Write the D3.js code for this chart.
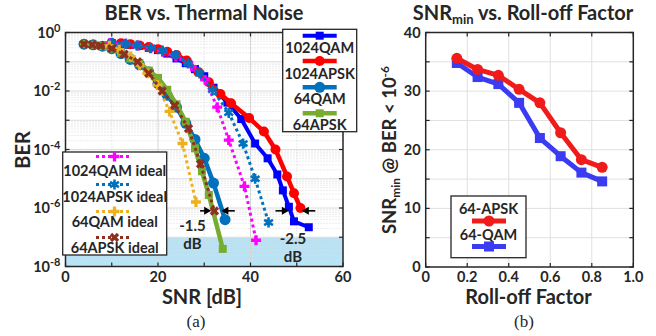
<!DOCTYPE html>
<html><head><meta charset="utf-8">
<script src="https://cdn.jsdelivr.net/npm/d3@7"></script>
<style>
body{margin:0;background:#fff}
svg{display:block}
text{font-family:Lato,"Open Sans",sans-serif;font-weight:bold;fill:#262626}
</style>
</head><body>
<svg id="chart" width="656" height="336"></svg>
<script>
// ---------- Panel (a): BER vs. SNR ----------
const snr1024QAM = [10,12,14,16,18,20,22,24,26,28,30,32,35,38,41,43.7,45.8,47,48.3,49.4,52.6];
const ber1024QAM = [0.43,0.41,0.38,0.35,0.30,0.25,0.19,0.13,0.089,0.056,0.032,0.013,0.0040,0.0011,1.6e-4,5.0e-5,1.4e-5,4.0e-6,1.1e-6,3.5e-7,2.2e-7];

const snr1024APSK = [10,12,14,16,18,20,22,24,26.2,28.7,31,33.5,35.8,39.7,42.9,45.4,47.9,49.4,50.8];
const ber1024APSK = [0.44,0.43,0.40,0.36,0.32,0.27,0.22,0.17,0.11,0.045,0.020,0.0079,0.0038,0.0012,4.1e-4,1.0e-4,1.2e-5,3.2e-6,1.0e-6];

const snr64QAM = [4,6,8,10,12,14,16,18,20,22,24,26,28,30,32,34.5];
const ber64QAM = [0.40,0.38,0.34,0.28,0.19,0.12,0.079,0.045,0.018,0.0071,0.0028,7.9e-4,2.2e-4,5.0e-5,7.1e-6,4.0e-7];

const snr64APSK = [4,6,8,10,12,14,16,18,20,22,24,26,28,29.5,31,34];
const ber64APSK = [0.40,0.38,0.34,0.28,0.20,0.13,0.089,0.050,0.028,0.011,0.0035,8.9e-4,1.1e-4,1.8e-5,2.8e-6,4.0e-8];

const snr1024QAMIdeal = [9.6,13,15.5,18.4,21,23.8,27.3,30.2,32.8,35.3,38.7,41.2];
const ber1024QAMIdeal = [0.44,0.41,0.36,0.29,0.22,0.15,0.068,0.024,0.0028,2.1e-4,5.5e-6,7.9e-8];

const snr1024APSKIdeal = [10,13,15.5,18.4,21,23.8,26.5,29,31.8,35.3,38.4,41,43.9];
const ber1024APSKIdeal = [0.44,0.41,0.36,0.30,0.24,0.17,0.089,0.040,0.011,0.0018,1.6e-4,1.0e-5,3.2e-7];

const snr64QAMIdeal = [9.5,11.6,14.1,16,17.7,19.9,22.5,25.3,28.2];
const ber64QAMIdeal = [0.35,0.26,0.15,0.079,0.040,0.016,0.0020,1.6e-4,1.6e-6];

const snr64APSKIdeal = [4,5.8,7.6,10,12.7,15.6,18,20.9,23.6,26.6,29.2,32.2];
const ber64APSKIdeal = [0.40,0.38,0.35,0.28,0.18,0.10,0.040,0.010,0.0032,5.2e-4,3.2e-5,7.9e-7];

const snrTicks = [0,20,40,60];
const berTickExp = [0,-2,-4,-6,-8];
const berShadeTop = 1e-7;

// arrows marking the SNR penalty at BER = 1e-6: [tail, tip] in dB
const arrowBer = 8e-7;
const arrows64 = [[29.1,31.5],[36.6,33.7]];
const arrows1024 = [[45.4,48.3],[54.0,51.1]];
const penalty64 = ["-1.5","dB"];
const penalty1024 = ["-2.5","dB"];

// ---------- Panel (b): SNRmin vs. roll-off ----------
const rollOff = [0.15,0.25,0.35,0.45,0.55,0.65,0.75,0.85];
const snrMin64APSK = [35.6,33.7,32.7,30.3,28.0,22.9,18.3,17.0];
const snrMin64QAM = [34.8,32.4,31.2,28.0,22.0,18.9,16.1,14.6];
const rollTicks = [0,0.2,0.4,0.6,0.8,1.0];
const snrMinTicks = [0,10,20,30,40];

const svg = d3.select("#chart");

// ================= Panel (a) =================
const xA = d3.scaleLinear([0,60],[65.5,343]);
const yA = d3.scaleLog([1e-8,1],[266.5,32.5]);
const gA = svg.append("g");

// shaded target region
gA.append("rect")
  .attr("x", xA(0)).attr("y", yA(berShadeTop))
  .attr("width", xA(60)-xA(0)).attr("height", yA(1e-8)-yA(berShadeTop))
  .attr("fill", "#b9e4f6");

// grid
const minorBer = [];
for (let e=-8; e<0; e++) for (let m=2; m<10; m++) minorBer.push(m*Math.pow(10,e));
gA.append("g").selectAll("line").data(minorBer).join("line")
  .attr("x1", xA(0)).attr("x2", xA(60))
  .attr("y1", d=>yA(d)).attr("y2", d=>yA(d))
  .attr("stroke", "#d0d0d0").attr("stroke-width", 0.8).attr("stroke-dasharray","1,2");
gA.append("g").selectAll("line").data(d3.range(-7,0)).join("line")
  .attr("x1", xA(0)).attr("x2", xA(60))
  .attr("y1", d=>yA(Math.pow(10,d))).attr("y2", d=>yA(Math.pow(10,d)))
  .attr("stroke", "#dcdcdc").attr("stroke-width", 1);
gA.append("g").selectAll("line").data([10,20,30,40,50]).join("line")
  .attr("x1", d=>xA(d)).attr("x2", d=>xA(d))
  .attr("y1", yA(1)).attr("y2", yA(1e-8))
  .attr("stroke", "#d6d6d6").attr("stroke-width", 1)
  .attr("stroke-dasharray", d=> d%20===0 ? null : "1,2");

// series
const seriesA = [
  {x:snr1024QAM, y:ber1024QAM, color:"#0000ff", w:4, dash:null, mk:"square", s:8},
  {x:snr1024APSK, y:ber1024APSK, color:"#ff0000", w:4.5, dash:null, mk:"circle", s:10},
  {x:snr64QAM, y:ber64QAM, color:"#0072bd", w:4.5, dash:null, mk:"circle", s:11},
  {x:snr64APSK, y:ber64APSK, color:"#77ac30", w:4.5, dash:null, mk:"square", s:8},
  {x:snr1024QAMIdeal, y:ber1024QAMIdeal, color:"#ff00ff", w:3, dash:"3,3", mk:"plus", s:10},
  {x:snr1024APSKIdeal, y:ber1024APSKIdeal, color:"#0072bd", w:3, dash:"3,3", mk:"star", s:9},
  {x:snr64QAMIdeal, y:ber64QAMIdeal, color:"#edb120", w:3, dash:"3,3", mk:"plus", s:10},
  {x:snr64APSKIdeal, y:ber64APSKIdeal, color:"#8e3020", w:3, dash:"3,3", mk:"times", s:10}
];

function marker(g, type, color, s, cx, cy) {
  if (type==="square") {
    g.append("rect").attr("x",cx-s/2).attr("y",cy-s/2).attr("width",s).attr("height",s).attr("fill",color);
  } else if (type==="circle") {
    g.append("circle").attr("cx",cx).attr("cy",cy).attr("r",s/2).attr("fill",color);
  } else if (type==="plus" || type==="times") {
    g.append("path").attr("d", d3.symbol(d3.symbolCross, s*s*0.55)())
      .attr("transform", `translate(${cx},${cy})` + (type==="times"?" rotate(45)":""))
      .attr("fill", color);
  } else if (type==="star") {
    g.append("path").attr("d", d3.symbol(d3.symbolAsterisk, s*s*0.9)())
      .attr("transform", `translate(${cx},${cy})`)
      .attr("fill","none").attr("stroke", color).attr("stroke-width", 2.6);
  }
}

const lineA = d3.line();
seriesA.forEach(sr => {
  const pts = sr.x.map((v,i)=>[xA(v), yA(sr.y[i])]);
  const g = gA.append("g");
  g.append("path").attr("d", lineA(pts)).attr("fill","none")
    .attr("stroke", sr.color).attr("stroke-width", sr.w)
    .attr("stroke-dasharray", sr.dash).attr("stroke-linejoin","round");
  pts.forEach(p => marker(g, sr.mk, sr.color, sr.s, p[0], p[1]));
});

// penalty arrows
function arrow(g, x0, x1, y) {
  const dir = Math.sign(x1-x0);
  g.append("line").attr("x1",x0).attr("x2",x1-dir*5).attr("y1",y).attr("y2",y)
    .attr("stroke","#000").attr("stroke-width",1.6);
  g.append("path").attr("d",`M${x1},${y} L${x1-dir*7},${y-4} L${x1-dir*7},${y+4} Z`).attr("fill","#000");
}
[...arrows64, ...arrows1024].forEach(a => arrow(gA, xA(a[0]), xA(a[1]), yA(arrowBer)));
function twoLine(g, x, y, lines) {
  lines.forEach((s,i)=>{
    g.append("text").attr("x",x).attr("y",y+i*18).attr("text-anchor","middle")
      .style("font-size","15px").text(s);
  });
}
twoLine(gA, 192.5, 231, penalty64);
twoLine(gA, 293, 244, penalty1024);

// axes box + ticks
function frame(g, x0, x1, y0, y1) {
  g.append("rect").attr("x",x0).attr("y",y0).attr("width",x1-x0).attr("height",y1-y0)
    .attr("fill","none").attr("stroke","#262626").attr("stroke-width",1.5);
}
frame(gA, xA(0), xA(60), yA(1), yA(1e-8));
const tA = gA.append("g").attr("stroke","#262626").attr("stroke-width",1.2);
[0,10,20,30,40,50,60].forEach(v=>{
  tA.append("line").attr("x1",xA(v)).attr("x2",xA(v)).attr("y1",yA(1e-8)).attr("y2",yA(1e-8)-4);
  tA.append("line").attr("x1",xA(v)).attr("x2",xA(v)).attr("y1",yA(1)).attr("y2",yA(1)+4);
});
d3.range(-8,1).forEach(e=>{
  const y = yA(Math.pow(10,e));
  tA.append("line").attr("x1",xA(0)).attr("x2",xA(0)+4).attr("y1",y).attr("y2",y);
  tA.append("line").attr("x1",xA(60)).attr("x2",xA(60)-4).attr("y1",y).attr("y2",y);
});
snrTicks.forEach(v=>{
  gA.append("text").attr("x",xA(v)).attr("y",yA(1e-8)+15).attr("text-anchor","middle")
    .style("font-size","14.5px").text(v);
});
berTickExp.forEach(e=>{
  const t = gA.append("text").attr("x",xA(0)-5).attr("y",yA(Math.pow(10,e))+5)
    .attr("text-anchor","end").style("font-size","14.5px");
  t.append("tspan").text("10");
  t.append("tspan").attr("dy",-6).style("font-size","11px").text(e);
});
gA.append("text").attr("x",204).attr("y",20).attr("text-anchor","middle").style("font-size","20px").text("BER vs. Thermal Noise");
gA.append("text").attr("x",202).attr("y",304).attr("text-anchor","middle").style("font-size","20px").text("SNR [dB]");
gA.append("text").attr("transform","translate(30,150) rotate(-90)").attr("text-anchor","middle").style("font-size","20px").text("BER");
gA.append("text").attr("x",196).attr("y",327).attr("text-anchor","middle")
  .style("font-family","'Liberation Serif',serif").style("font-weight","normal").style("font-size","17px").text("(a)");

// legends for panel (a)
const legR = gA.append("g");
legR.append("rect").attr("x",282.7).attr("y",29.3).attr("width",74).attr("height",102.4)
  .attr("fill","#fff").attr("stroke","#262626").attr("stroke-width",1.3);
const namesR = ["1024QAM","1024APSK","64QAM","64APSK"];
const lineYR = [35.7,61,87.3,113.3];
const textYR = [52.5,78.5,104,130];
namesR.forEach((n,i)=>{
  const sr = seriesA[i];
  legR.append("line").attr("x1",302.7).attr("x2",336.7).attr("y1",lineYR[i]).attr("y2",lineYR[i])
    .attr("stroke",sr.color).attr("stroke-width",sr.w);
  marker(legR, sr.mk, sr.color, sr.s, 319.7, lineYR[i]);
  legR.append("text").attr("x",319.7).attr("y",textYR[i]).attr("text-anchor","middle")
    .style("font-size","14.5px").text(n);
});
const legL = gA.append("g");
legL.append("rect").attr("x",62.7).attr("y",152).attr("width",104).attr("height",103)
  .attr("fill","#fff").attr("stroke","#262626").attr("stroke-width",1.3);
const namesL = ["1024QAM ideal","1024APSK ideal","64QAM ideal","64APSK ideal"];
const lineYL = [156.5,184.5,211.5,237.5];
const textYL = [175.5,201.5,227,253];
namesL.forEach((n,i)=>{
  const sr = seriesA[i+4];
  legL.append("line").attr("x1",96).attr("x2",132).attr("y1",lineYL[i]).attr("y2",lineYL[i])
    .attr("stroke",sr.color).attr("stroke-width",sr.w).attr("stroke-dasharray",sr.dash);
  marker(legL, sr.mk, sr.color, sr.s, 114.5, lineYL[i]);
  legL.append("text").attr("x",114.7).attr("y",textYL[i]).attr("text-anchor","middle")
    .style("font-size","14.5px").text(n);
});

// ================= Panel (b) =================
const xB = d3.scaleLinear([0,1],[425.7,633.3]);
const yB = d3.scaleLinear([0,40],[267,32.5]);
const gB = svg.append("g");
gB.append("g").selectAll("line").data([0.2,0.4,0.6,0.8]).join("line")
  .attr("x1",d=>xB(d)).attr("x2",d=>xB(d)).attr("y1",yB(0)).attr("y2",yB(40))
  .attr("stroke","#e0e0e0").attr("stroke-width",1);
gB.append("g").selectAll("line").data([5,10,15,20,25,30,35]).join("line")
  .attr("x1",xB(0)).attr("x2",xB(1)).attr("y1",d=>yB(d)).attr("y2",d=>yB(d))
  .attr("stroke","#e0e0e0").attr("stroke-width",1);

const seriesB = [
  {y:snrMin64QAM, color:"#3b3bf2", mk:"square", s:10, name:"64-QAM"},
  {y:snrMin64APSK, color:"#f01c1c", mk:"circle", s:11, name:"64-APSK"}
];
seriesB.forEach(sr=>{
  const pts = rollOff.map((r,i)=>[xB(r), yB(sr.y[i])]);
  const g = gB.append("g");
  g.append("path").attr("d", d3.line()(pts)).attr("fill","none").attr("stroke",sr.color)
    .attr("stroke-width",5).attr("stroke-linejoin","round");
  pts.forEach(p=>marker(g, sr.mk, sr.color, sr.s, p[0], p[1]));
});

frame(gB, xB(0), xB(1), yB(40), yB(0));
const tB = gB.append("g").attr("stroke","#262626").attr("stroke-width",1.2);
d3.range(0,1.01,0.2).forEach(v=>{
  tB.append("line").attr("x1",xB(v)).attr("x2",xB(v)).attr("y1",yB(0)).attr("y2",yB(0)-4);
  tB.append("line").attr("x1",xB(v)).attr("x2",xB(v)).attr("y1",yB(40)).attr("y2",yB(40)+4);
});
d3.range(0,41,5).forEach(v=>{
  tB.append("line").attr("x1",xB(0)).attr("x2",xB(0)+4).attr("y1",yB(v)).attr("y2",yB(v));
  tB.append("line").attr("x1",xB(1)).attr("x2",xB(1)-4).attr("y1",yB(v)).attr("y2",yB(v));
});
rollTicks.forEach(v=>{
  gB.append("text").attr("x",xB(v)).attr("y",yB(0)+14.5).attr("text-anchor","middle")
    .style("font-size","14.5px").text(v===0?"0":v.toFixed(1));
});
snrMinTicks.forEach(v=>{
  gB.append("text").attr("x",xB(0)-5).attr("y",yB(v)+5).attr("text-anchor","end")
    .style("font-size","14.5px").text(v);
});
const titleB = gB.append("text").attr("x",523).attr("y",20).attr("text-anchor","middle").style("font-size","20px");
titleB.append("tspan").text("SNR");
titleB.append("tspan").attr("dy",4).style("font-size","13px").text("min");
titleB.append("tspan").attr("dy",-4).text(" vs. Roll-off Factor");
gB.append("text").attr("x",528.5).attr("y",304).attr("text-anchor","middle").style("font-size","20px").text("Roll-off Factor");
const ylB = gB.append("text").attr("transform","translate(396,150) rotate(-90)").attr("text-anchor","middle").style("font-size","18.5px");
ylB.append("tspan").text("SNR");
ylB.append("tspan").attr("dy",4).style("font-size","12px").text("min");
ylB.append("tspan").attr("dy",-4).text(" @ BER < 10");
ylB.append("tspan").attr("dy",-7).style("font-size","12px").text("-6");
gB.append("text").attr("x",524).attr("y",327).attr("text-anchor","middle")
  .style("font-family","'Liberation Serif',serif").style("font-weight","normal").style("font-size","17px").text("(b)");

// legend for panel (b)
const legB = gB.append("g");
legB.append("rect").attr("x",451).attr("y",196).attr("width",75).attr("height",61.7)
  .attr("fill","#fff").attr("stroke","#262626").attr("stroke-width",1.3);
[seriesB[1], seriesB[0]].forEach((sr,i)=>{
  const ly = [221,246.5][i];
  legB.append("text").attr("x",488.5).attr("y",ly-7).attr("text-anchor","middle").style("font-size","14.5px").text(sr.name);
  legB.append("line").attr("x1",472).attr("x2",506).attr("y1",ly).attr("y2",ly).attr("stroke",sr.color).attr("stroke-width",5);
  marker(legB, sr.mk, sr.color, sr.s, 489, ly);
});
</script>
</body></html>
